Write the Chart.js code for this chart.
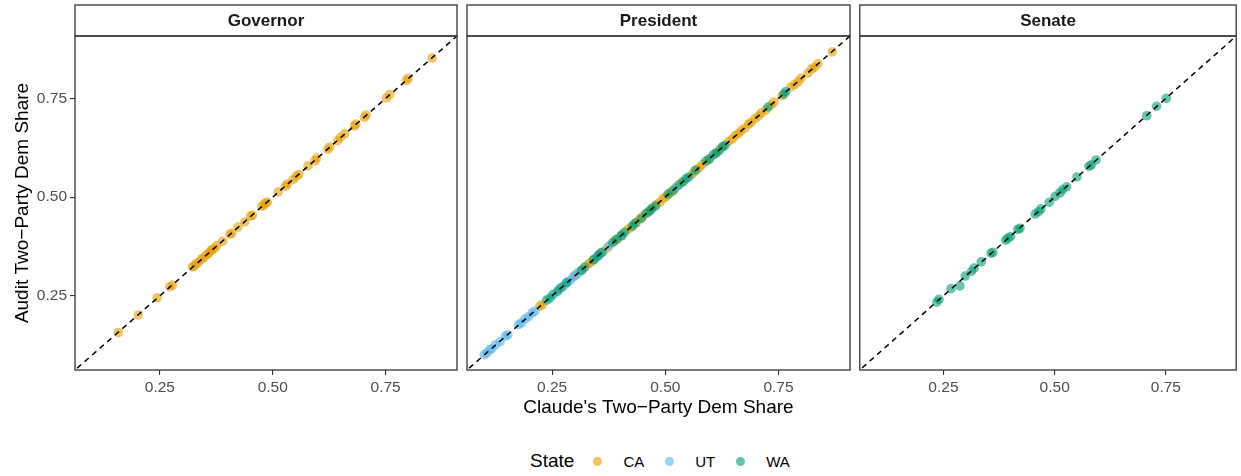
<!DOCTYPE html>
<html>
<head>
<meta charset="utf-8">
<script src="https://cdn.jsdelivr.net/npm/chart.js@4.4.1/dist/chart.umd.min.js"></script>
<style>
  body { margin: 0; background: #fff; font-family: "Liberation Sans", Arial, sans-serif; }
  #wrap { position: relative; width: 1241px; height: 476px; overflow: hidden; background: #fff; }
  #wrap canvas { position: absolute; top: 0; }
  #legend { position: absolute; left: 530px; top: 449px; height: 24px; display: flex; align-items: center; color: #000; }
  #legend .ttl { font-size: 19px; margin-right: 19px; }
  #legend .dot { width: 9px; height: 9px; border-radius: 50%; margin-right: 21px; }
  #legend .lab { font-size: 15px; margin-right: 21px; }
</style>
</head>
<body>
<div id="wrap">
  <canvas id="cGov" width="462" height="400" style="left:0px"></canvas>
  <canvas id="cPres" width="393" height="420" style="left:462px"></canvas>
  <canvas id="cSen" width="386" height="400" style="left:855px"></canvas>
  <div id="legend"></div>
</div>
<script>
// Facets
var facets = ['Governor', 'President', 'Senate'];
var states = ['CA', 'UT', 'WA'];
var tickVals = [0.25, 0.50, 0.75];

// Governor (CA)
var govCaClaude = [0.158, 0.202, 0.244, 0.272, 0.278, 0.322, 0.326, 0.330, 0.336, 0.342, 0.348, 0.353, 0.358, 0.362, 0.366, 0.371, 0.376, 0.389, 0.405, 0.409, 0.423, 0.438, 0.451, 0.455, 0.476, 0.480, 0.484, 0.488, 0.512, 0.528, 0.532, 0.545, 0.552, 0.558, 0.578, 0.593, 0.597, 0.622, 0.626, 0.644, 0.650, 0.659, 0.681, 0.684, 0.703, 0.707, 0.752, 0.759, 0.796, 0.800, 0.853];
var govCaAudit  = [0.157, 0.201, 0.245, 0.273, 0.277, 0.323, 0.325, 0.331, 0.335, 0.343, 0.347, 0.354, 0.357, 0.363, 0.367, 0.370, 0.377, 0.388, 0.406, 0.408, 0.424, 0.437, 0.452, 0.454, 0.477, 0.479, 0.485, 0.487, 0.513, 0.527, 0.533, 0.544, 0.553, 0.557, 0.579, 0.592, 0.598, 0.621, 0.627, 0.643, 0.651, 0.660, 0.680, 0.685, 0.702, 0.708, 0.751, 0.760, 0.795, 0.801, 0.852];

// President
var presCaClaude = [0.223, 0.228, 0.300, 0.318, 0.330, 0.336, 0.341, 0.352, 0.362, 0.372, 0.388, 0.395, 0.405, 0.418, 0.425, 0.436, 0.443, 0.451, 0.462, 0.470, 0.480, 0.488, 0.495, 0.502, 0.510, 0.520, 0.536, 0.560, 0.569, 0.576, 0.582, 0.595, 0.614, 0.626, 0.640, 0.648, 0.655, 0.662, 0.668, 0.676, 0.684, 0.690, 0.698, 0.706, 0.712, 0.722, 0.735, 0.740, 0.758, 0.778, 0.786, 0.793, 0.800, 0.815, 0.823, 0.830, 0.837, 0.869];
var presCaAudit  = [0.224, 0.227, 0.301, 0.317, 0.331, 0.335, 0.342, 0.353, 0.361, 0.371, 0.389, 0.394, 0.406, 0.419, 0.424, 0.435, 0.444, 0.452, 0.461, 0.471, 0.481, 0.487, 0.496, 0.501, 0.511, 0.519, 0.537, 0.559, 0.570, 0.575, 0.583, 0.594, 0.613, 0.627, 0.641, 0.647, 0.656, 0.661, 0.669, 0.675, 0.685, 0.689, 0.699, 0.705, 0.713, 0.721, 0.734, 0.741, 0.757, 0.779, 0.785, 0.792, 0.801, 0.814, 0.824, 0.829, 0.838, 0.868];
var presUtClaude = [0.100, 0.106, 0.112, 0.117, 0.125, 0.135, 0.147, 0.152, 0.176, 0.182, 0.190, 0.198, 0.206, 0.212, 0.265, 0.276, 0.283, 0.290, 0.297, 0.304, 0.310, 0.345, 0.352, 0.362, 0.376, 0.403, 0.524];
var presUtAudit  = [0.101, 0.105, 0.113, 0.116, 0.126, 0.134, 0.148, 0.151, 0.177, 0.181, 0.191, 0.197, 0.207, 0.211, 0.266, 0.275, 0.284, 0.289, 0.298, 0.303, 0.311, 0.344, 0.353, 0.361, 0.377, 0.402, 0.525];
var presWaClaude = [0.238, 0.245, 0.252, 0.262, 0.270, 0.282, 0.315, 0.322, 0.342, 0.352, 0.358, 0.384, 0.392, 0.403, 0.410, 0.428, 0.433, 0.447, 0.458, 0.466, 0.470, 0.478, 0.506, 0.516, 0.530, 0.540, 0.546, 0.552, 0.566, 0.590, 0.598, 0.606, 0.612, 0.620, 0.627, 0.632, 0.727, 0.762, 0.766];
var presWaAudit  = [0.239, 0.244, 0.253, 0.261, 0.271, 0.283, 0.314, 0.323, 0.341, 0.351, 0.359, 0.385, 0.393, 0.402, 0.411, 0.427, 0.434, 0.446, 0.459, 0.465, 0.471, 0.477, 0.507, 0.515, 0.531, 0.539, 0.547, 0.551, 0.567, 0.591, 0.597, 0.607, 0.611, 0.619, 0.628, 0.631, 0.728, 0.761, 0.767];

// Senate (WA)
var senWaClaude = [0.235, 0.240, 0.267, 0.287, 0.299, 0.313, 0.319, 0.335, 0.357, 0.361, 0.390, 0.395, 0.401, 0.417, 0.422, 0.456, 0.464, 0.469, 0.488, 0.501, 0.512, 0.518, 0.527, 0.550, 0.577, 0.582, 0.593, 0.707, 0.729, 0.751];
var senWaAudit  = [0.234, 0.241, 0.268, 0.275, 0.300, 0.312, 0.320, 0.336, 0.358, 0.360, 0.391, 0.396, 0.400, 0.418, 0.421, 0.457, 0.463, 0.470, 0.487, 0.502, 0.511, 0.519, 0.526, 0.551, 0.578, 0.581, 0.594, 0.706, 0.730, 0.750];

// reference line y = x
var refLine = [0, 1];

var stateColors = { CA: 'rgba(230,159,0,0.6)', UT: 'rgba(86,180,233,0.6)', WA: 'rgba(0,158,115,0.6)' };
var fontFam = '"Liberation Sans", Arial, sans-serif';
var axMin = 0.062, axMax = 0.908;

function pts(xs, ys) {
  return xs.map(function (x, i) { return { x: x, y: ys[i] }; });
}

function pointSet(state, xs, ys, order) {
  return {
    type: 'scatter',
    label: state,
    data: pts(xs, ys),
    backgroundColor: stateColors[state],
    borderWidth: 0,
    pointRadius: 4.8,
    pointHoverRadius: 4.8,
    order: order
  };
}

function lineSet() {
  return {
    type: 'line',
    data: pts(refLine, refLine),
    borderColor: '#000',
    borderWidth: 1.5,
    borderDash: [5.5, 4.5],
    pointRadius: 0,
    fill: false,
    clip: 0,
    order: 0
  };
}

// cadre du panneau + bandeau titre
var facetFrame = {
  id: 'facetFrame',
  afterDraw: function (chart, args, opts) {
    var a = chart.chartArea, ctx = chart.ctx;
    ctx.save();
    ctx.strokeStyle = '#333333';
    ctx.lineWidth = 1.3;
    ctx.strokeRect(a.left, a.top, a.right - a.left, a.bottom - a.top);
    ctx.strokeRect(a.left, 5, a.right - a.left, a.top - 5);
    ctx.fillStyle = '#1A1A1A';
    ctx.font = 'bold 17px ' + fontFam;
    ctx.textAlign = 'center';
    ctx.textBaseline = 'middle';
    ctx.fillText(opts.text, (a.left + a.right) / 2, (a.top + 5) / 2 + 0.5);
    ctx.restore();
  }
};

function setTicks(scale) {
  scale.ticks = tickVals.map(function (v) { return { value: v }; });
}

function makePanel(id, title, datasets, o) {
  var ctx = document.getElementById(id).getContext('2d');
  return new Chart(ctx, {
    type: 'scatter',
    data: { datasets: datasets },
    plugins: [facetFrame],
    options: {
      responsive: false,
      animation: false,
      devicePixelRatio: 1,
      layout: { padding: { top: 36, left: o.padLeft, right: o.padRight, bottom: 0 } },
      plugins: {
        legend: { display: false },
        tooltip: { enabled: false },
        facetFrame: { text: title }
      },
      scales: {
        x: {
          type: 'linear',
          min: axMin, max: axMax,
          afterBuildTicks: setTicks,
          afterFit: function (s) { s.height = o.xHeight; },
          border: { display: false },
          grid: { drawOnChartArea: false, drawTicks: true, tickLength: 5, color: '#333333', lineWidth: 1.1 },
          ticks: {
            autoSkip: false, maxRotation: 0, padding: 3,
            color: '#4D4D4D', font: { family: fontFam, size: 15.5 },
            callback: function (v) { return v.toFixed(2); }
          },
          title: {
            display: !!o.xTitle, text: o.xTitle || '',
            color: '#000', font: { family: fontFam, size: 19 },
            padding: { top: 0, bottom: 1 }
          }
        },
        y: {
          type: 'linear',
          display: o.showY,
          min: axMin, max: axMax,
          afterBuildTicks: setTicks,
          afterFit: function (s) { s.width = o.showY ? 75 : 0; },
          border: { display: false },
          grid: { drawOnChartArea: false, drawTicks: true, tickLength: 5, color: '#333333', lineWidth: 1.1 },
          ticks: {
            autoSkip: false, padding: 3,
            color: '#4D4D4D', font: { family: fontFam, size: 15.5 },
            callback: function (v) { return v.toFixed(2); }
          },
          title: {
            display: true, text: 'Audit Two\u2212Party Dem Share',
            color: '#000', font: { family: fontFam, size: 19 },
            padding: { top: 11, bottom: 0 }
          }
        }
      }
    }
  });
}

makePanel('cGov', facets[0], [
  lineSet(),
  pointSet('CA', govCaClaude, govCaAudit, 3)
], { padLeft: 0, padRight: 5, xHeight: 30, showY: true });

makePanel('cPres', facets[1], [
  lineSet(),
  pointSet('WA', presWaClaude, presWaAudit, 1),
  pointSet('UT', presUtClaude, presUtAudit, 2),
  pointSet('CA', presCaClaude, presCaAudit, 3)
], { padLeft: 5, padRight: 5, xHeight: 50, showY: false, xTitle: 'Claude\'s Two\u2212Party Dem Share' });

makePanel('cSen', facets[2], [
  lineSet(),
  pointSet('WA', senWaClaude, senWaAudit, 1)
], { padLeft: 4, padRight: 1, xHeight: 30, showY: false });

// legende
var leg = document.getElementById('legend');
var html = '<span class="ttl">State</span>';
states.forEach(function (s) {
  html += '<span class="dot" style="background:' + stateColors[s] + '"></span><span class="lab">' + s + '</span>';
});
leg.innerHTML = html;
</script>
</body>
</html>
